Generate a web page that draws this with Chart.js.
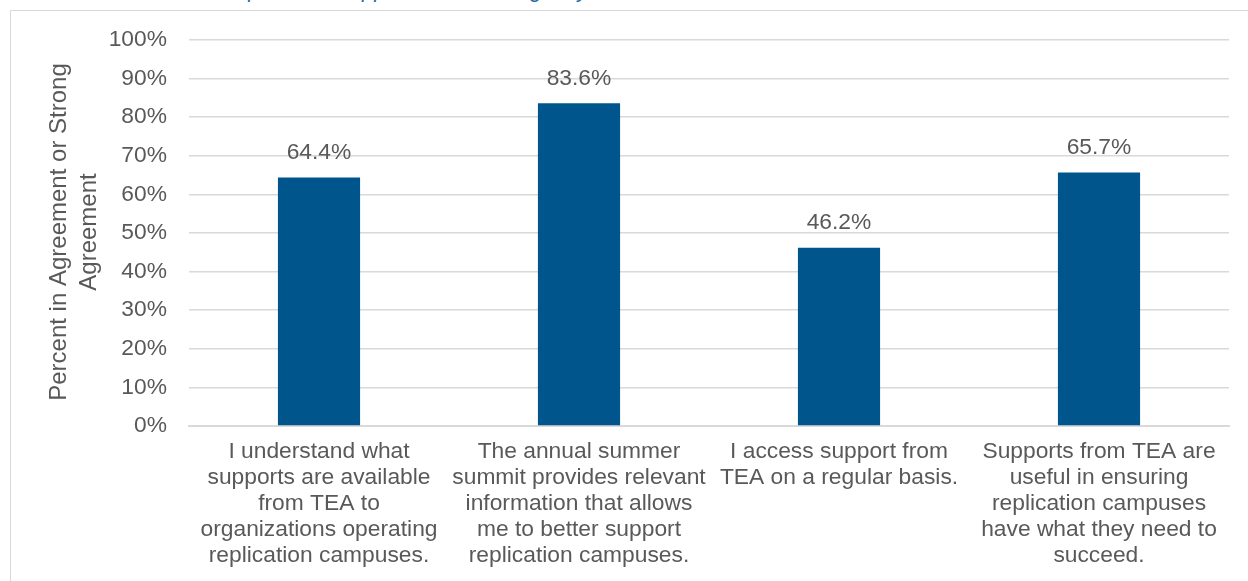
<!DOCTYPE html>
<html>
<head>
<meta charset="utf-8">
<script src="https://cdn.jsdelivr.net/npm/chart.js@4/dist/chart.umd.min.js"></script>
<style>
  html, body { margin: 0; padding: 0; background: #ffffff; overflow: hidden; }
  #wrap { position: relative; width: 1248px; height: 581px; }
  #frame { position: absolute; left: 10px; top: 10px; width: 1300px; height: 700px;
           border: 1.5px solid #d9d9d9; box-sizing: border-box; }
  #caption { position: absolute; left: 22px; top: -23px; margin: 0;
             font: italic 22px "Liberation Sans", Arial, sans-serif; color: #1f6fa8; white-space: nowrap; }
  canvas { position: absolute; left: 0; top: 0; }
</style>
</head>
<body>
<div id="wrap">
  <p id="caption">Attitudes Related to Replication Supports from the Agency</p>
  <div id="frame"></div>
  <canvas id="c" width="1248" height="581"></canvas>
</div>
<script>
const categories = [
  ["I understand what", "supports are available", "from TEA to", "organizations operating", "replication campuses."],
  ["The annual summer", "summit provides relevant", "information that allows", "me to better support", "replication campuses."],
  ["I access support from", "TEA on a regular basis."],
  ["Supports from TEA are", "useful in ensuring", "replication campuses", "have what they need to", "succeed."]
];
const agreementPct = [64.4, 83.6, 46.2, 65.7];
const yTickValues = [0, 10, 20, 30, 40, 50, 60, 70, 80, 90, 100];
const yAxisTitle = ["Percent in Agreement or Strong", "Agreement"];

const TEXT = "#595959";
const GRID = "#d9d9d9";
const BAR = "#00558c";
const FONT = '"Liberation Sans", Arial, sans-serif';
const SIZE = 22.8;

// value labels above each bar
const valueLabels = {
  id: "valueLabels",
  afterDatasetsDraw(chart) {
    const ctx = chart.ctx;
    const meta = chart.getDatasetMeta(0);
    ctx.save();
    ctx.font = SIZE + "px " + FONT;
    ctx.fillStyle = TEXT;
    ctx.textAlign = "center";
    ctx.textBaseline = "middle";
    meta.data.forEach((bar, i) => {
      ctx.fillText(agreementPct[i].toFixed(1) + "%", bar.x, bar.y - 25);
    });
    ctx.restore();
  }
};

// rotated two-line y axis title
const yTitle = {
  id: "yTitle",
  afterDraw(chart) {
    const ctx = chart.ctx;
    ctx.save();
    ctx.font = "24px " + FONT;
    ctx.fillStyle = TEXT;
    ctx.textAlign = "center";
    ctx.textBaseline = "middle";
    ctx.translate(59, 232);
    ctx.rotate(-Math.PI / 2);
    yAxisTitle.forEach((line, i) => ctx.fillText(line, 0, i * 30));
    ctx.restore();
  }
};

new Chart(document.getElementById("c"), {
  type: "bar",
  data: {
    labels: categories,
    datasets: [{
      data: agreementPct,
      backgroundColor: BAR,
      borderWidth: 0,
      categoryPercentage: 1,
      barPercentage: 0.316
    }]
  },
  options: {
    responsive: false,
    animation: false,
    devicePixelRatio: 1,
    layout: { padding: { top: 40, right: 19, left: 0, bottom: 0 } },
    plugins: { legend: { display: false }, tooltip: { enabled: false } },
    scales: {
      x: {
        grid: { display: false, drawTicks: false },
        border: { display: true, color: GRID, width: 2 },
        ticks: {
          color: TEXT,
          font: { family: FONT, size: SIZE, lineHeight: 26 / SIZE },
          padding: 13,
          maxRotation: 0,
          autoSkip: false
        },
        afterFit(scale) { scale.height = 155; }
      },
      y: {
        min: 0,
        max: 100,
        afterBuildTicks(scale) { scale.ticks = yTickValues.map(v => ({ value: v })); },
        grid: { color: GRID, lineWidth: 1.5, drawTicks: false },
        border: { display: false },
        ticks: {
          color: TEXT,
          font: { family: FONT, size: SIZE },
          padding: 22,
          callback: v => v + "%"
        },
        afterFit(scale) { scale.width = 189; }
      }
    }
  },
  plugins: [valueLabels, yTitle]
});
</script>
</body>
</html>
